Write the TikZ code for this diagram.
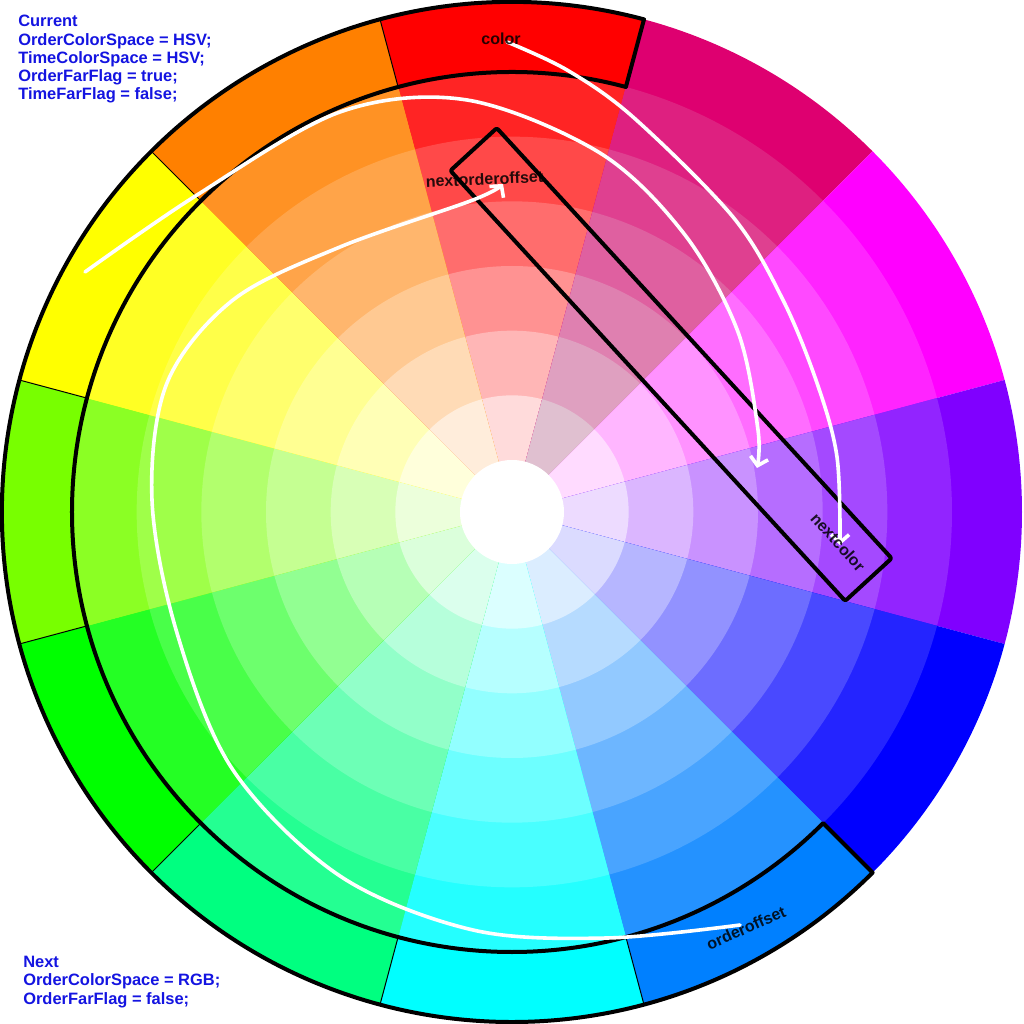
\documentclass[tikz,border=0pt]{standalone}
\usepackage{fontspec}
\setmainfont{Liberation Sans}
\usetikzlibrary{arrows.meta}
\definecolor{h0}{RGB}{255,0,0}
\definecolor{h1}{RGB}{222,0,112}
\definecolor{h2}{RGB}{255,0,255}
\definecolor{h3}{RGB}{128,0,255}
\definecolor{h4}{RGB}{0,0,255}
\definecolor{h5}{RGB}{0,128,255}
\definecolor{h6}{RGB}{0,255,255}
\definecolor{h7}{RGB}{0,255,128}
\definecolor{h8}{RGB}{0,255,0}
\definecolor{h9}{RGB}{120,255,0}
\definecolor{h10}{RGB}{255,255,0}
\definecolor{h11}{RGB}{255,128,0}
\definecolor{rosegray}{RGB}{224,224,224}
\definecolor{infoblue}{RGB}{20,20,225}
\tikzset{
  info/.style={anchor=base west, inner sep=0pt, text=infoblue,
    font=\fontsize{11.7pt}{13pt}\selectfont\bfseries},
  lbl/.style={inner sep=0pt, text=black, text opacity=0.85,
    font=\fontsize{11.4pt}{13pt}\selectfont\bfseries},
  thickline/.style={draw=black, line width=1mm, line join=round},
  thinline/.style={draw=black, line width=0.25mm},
  whitearrow/.style={draw=white, line width=0.9mm, line cap=round, line join=round,
    -{Straight Barb[length=2mm,width=4.5mm]}},
}
\begin{document}
\begin{tikzpicture}[x=0.025cm,y=0.025cm]
\useasboundingbox (-512,-512) rectangle (512,512);
\fill[white] (-512,-512) rectangle (512,512);
% colour wheel
\foreach \i in {0,...,11}{
  \pgfmathsetmacro\aa{75-30*\i}
  \pgfmathsetmacro\ab{105-30*\i}
  \ifnum\i=1 \def\mixc{rosegray}\else\def\mixc{white}\fi
  \fill[fill=h\i] (0,0) -- (\aa:510) arc[start angle=\aa, end angle=\ab, radius=510] -- cycle;
  \foreach \k in {1,...,6}{
    \pgfmathsetmacro\r{440-64.667*(\k-1)}
    \pgfmathsetmacro\p{100-100*\k/7}
    \fill[fill=h\i!\p!\mixc] (0,0) -- (\aa:\r) arc[start angle=\aa, end angle=\ab, radius=\r] -- cycle;
  }
}
\fill[white] (0,0) circle[radius=52];
% outline of outer ring part
\draw[thickline] (75:510) arc[start angle=75, end angle=315, radius=510]
  -- (315:440) arc[start angle=315, end angle=75, radius=440] -- cycle;
\foreach \a in {105,135,...,285}{
  \draw[thinline] (\a:440) -- (\a:510);
}
% rotated box
\draw[thickline, rounded corners=0.5mm, rotate around={-47.46:(159,147.5)}]
  (-133,116) rectangle (451,179);
% arrow end points
\coordinate (aS) at (-427,240);
\coordinate (aE) at (245,44);
\coordinate (bS) at (-5,470);
\coordinate (bE) at (328,-33);
\coordinate (cS) at (228,-413);
\coordinate (cE) at (-9,328);
% white arrows
\draw[whitearrow] plot[smooth, tension=0.55] coordinates {(aS) (-315,317) (-172,400) (-45,412) (88,359) (173,277) (226,180) (246,82) (aE)};
\draw[whitearrow] plot[smooth, tension=0.55] coordinates {(bS) (55,442) (121,395) (221,295) (271,212) (305,129) (325,55) (bE)};
\draw[whitearrow] plot[smooth, tension=0.55] coordinates {(cS) (95,-426) (-39,-418) (-172,-364) (-279,-258) (-335,-121) (-360,12) (-345,129) (-279,212) (-172,265) (-39,312) (cE)};
% labels
\node[lbl] (color) at (-11,473) {color};
\node[lbl, rotate=2.5] (nextorderoffset) at (-27.5,333) {nextorderoffset};
\node[lbl, rotate=-48] (nextcolor) at (326,-30) {nextcolor};
\node[lbl, rotate=24] (orderoffset) at (234,-416) {orderoffset};
% info texts
\node[info] (t1) at (-494,485) {Current};
\node[info] (t2) at (-494,466.7) {OrderColorSpace = HSV;};
\node[info] (t3) at (-494,448.4) {TimeColorSpace = HSV;};
\node[info] (t4) at (-494,430) {OrderFarFlag = true;};
\node[info] (t5) at (-494,412) {TimeFarFlag = false;};
\node[info] (n1) at (-489,-455) {Next};
\node[info] (n2) at (-489,-473.5) {OrderColorSpace = RGB;};
\node[info] (n3) at (-489,-492) {OrderFarFlag = false;};
\end{tikzpicture}
\end{document}
